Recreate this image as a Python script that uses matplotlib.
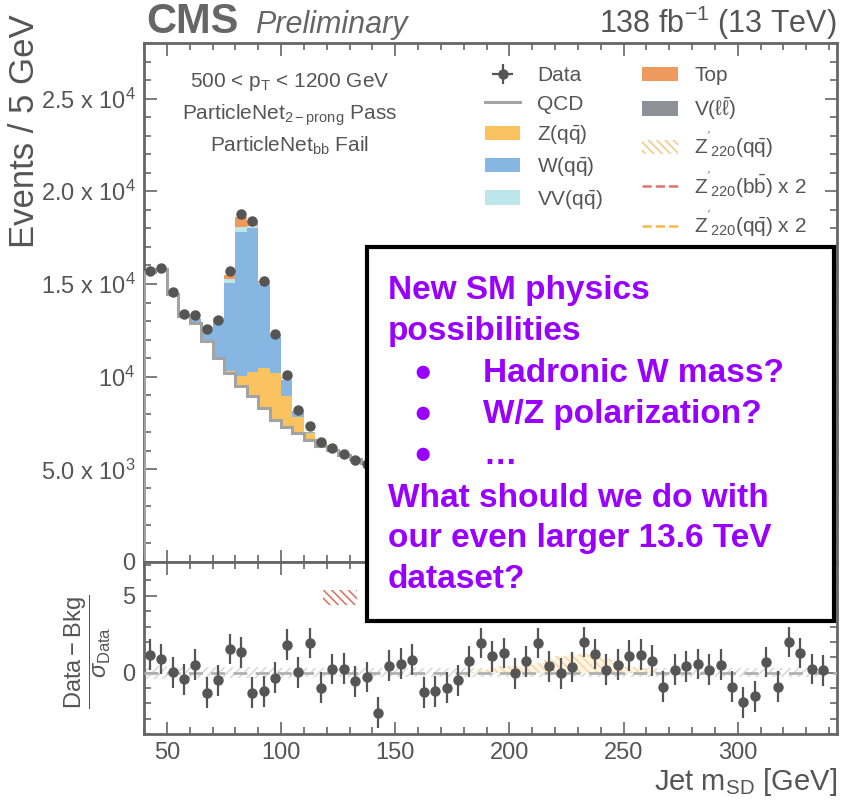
import numpy as np
import matplotlib.pyplot as plt
from matplotlib.patches import Patch, Rectangle
from matplotlib.lines import Line2D
from matplotlib.ticker import MultipleLocator, FixedLocator, FixedFormatter

plt.rcParams['font.family'] = ['Liberation Sans', 'DejaVu Sans']
plt.rcParams['mathtext.fontset'] = 'custom'
plt.rcParams['mathtext.rm'] = 'Liberation Sans'
plt.rcParams['mathtext.it'] = 'Liberation Sans:italic'
plt.rcParams['mathtext.bf'] = 'Liberation Sans:bold'
plt.rcParams['hatch.linewidth'] = 1.2

# ---- main panel, 5 GeV bins from 40 to 140 GeV (rest is behind the text box)
main_lo = 40
main_hi = 140
data = [15676, 15838, 14557, 13405, 13314, 12578, 13081, 15676, 18757, 18378,
        15173, 12308, 10070, 8178, 7351, 6470, 6146, 5822, 5514, 5297]
qcd = [15660, 15784, 14470, 13260, 12900, 11910, 11010, 10200, 9514, 8936,
       8306, 7676, 7279, 6955, 6595, 6270, 6054, 5784, 5551, 5335]
zqq = [10, 10, 15, 20, 30, 40, 60, 125, 502, 1296,
       2162, 2524, 1657, 845, 360, 110, 40, 30, 20, 15]
wqq = [15, 20, 40, 80, 205, 715, 2011, 4740, 7784, 7768,
       4505, 2050, 902, 324, 60, 20, 5, 0, 0, 0]
vvqq = [0, 0, 0, 5, 10, 20, 40, 178, 300, 150, 80, 30, 100, 20, 5, 0, 0, 0, 0, 0]
top = [0, 0, 0, 0, 5, 10, 20, 217, 500, 200, 100, 30, 30, 5, 0, 0, 0, 0, 0, 0]
vll = [0, 0, 0, 0, 0, 0, 5, 10, 20, 20, 10, 5, 5, 0, 0, 0, 0, 0, 0, 0]

# ---- pull panel, 5 GeV bins from 40 to 340 GeV
pull_lo = 40
pull_hi = 340
pulls = [1.17, 0.89, 0.02, -0.45, 0.52, -1.32, -0.50, 1.54, 1.32, -1.32,
         -1.21, -0.34, 1.82, 0.02, 1.93, -0.99, 0.24, 0.26, -0.56, -0.28,
         -2.62, 0.45, 0.58, 0.84, -1.28, -1.21, -0.99, -0.50, 0.73, 1.93,
         1.06, 1.28, -0.06, 0.73, 1.93, 0.41, -0.06, 0.37, 1.99, 1.21,
         0.19, 0.52, 1.10, 1.17, 0.78, -0.93, 0.19, 0.41, 0.56, 0.19,
         0.52, -0.93, -1.93, -1.54, 0.69, -0.93, 1.99, 1.28, 0.24, 0.15]
pull_err = [1.0] * len(pulls)
sig_pull = [0, 0, 0, 0, 0, 0, 0, 0, 0, 0,
            0, 0, 0, 0, 0, 0, 0, 0, 0, 0,
            0, 0, 0, 0, 0, 0, 0, 0, 0.05, 0.15,
            0.30, 0.40, 0.45, 0.50, 0.60, 0.85, 1.10, 1.20, 1.20, 1.15,
            0.90, 0.60, 0.35, 0.30, 0.20, 0.05, 0, 0, 0, 0,
            0, 0, 0, 0, 0, 0, 0, 0, 0, 0]
bkg_unc = [0.40, 0.40, 0.38, 0.38, 0.36, 0.36, 0.35, 0.35, 0.35, 0.35,
           0.34, 0.34, 0.33, 0.33, 0.32, 0.32, 0.32, 0.32, 0.31, 0.31,
           0.30, 0.30, 0.30, 0.30, 0.30, 0.30, 0.30, 0.30, 0.30, 0.30,
           0.30, 0.30, 0.30, 0.30, 0.30, 0.30, 0.30, 0.30, 0.30, 0.30,
           0.30, 0.30, 0.30, 0.30, 0.30, 0.30, 0.30, 0.30, 0.30, 0.30,
           0.30, 0.30, 0.30, 0.30, 0.30, 0.30, 0.30, 0.30, 0.30, 0.30]

TXT = '#555555'
SPINE = '#666666'
C_Z = '#fbc35f'
C_W = '#87b6e3'
C_VV = '#bce6ea'
C_TOP = '#ee9a5e'
C_VLL = '#8f9199'
C_QCD = '#a3a3a3'
PURPLE = '#9900ff'

W, H = 845, 806
fig = plt.figure(figsize=(W / 100, H / 100), dpi=100)
ax = fig.add_axes([144 / W, 1 - 562 / H, 693 / W, 519 / H])
ax2 = fig.add_axes([144 / W, 1 - 734 / H, 693 / W, 172 / H])

edges = np.arange(main_lo, main_hi + 5, 5)
centers = edges[:-1] + 2.5

# stacked backgrounds on top of QCD
base = np.array(qcd, dtype=float)
stack_handles = []
for vals, col, lab in [(zqq, C_Z, r'$\mathrm{Z(q\bar{q})}$'),
                       (wqq, C_W, r'$\mathrm{W(q\bar{q})}$'),
                       (vvqq, C_VV, r'$\mathrm{VV(q\bar{q})}$'),
                       (top, C_TOP, 'Top'),
                       (vll, C_VLL, r'$\mathrm{V(\ell\bar{\ell})}$')]:
    new = base + np.array(vals)
    h = ax.stairs(new, edges, baseline=base, fill=True, color=col, lw=0, label=lab)
    stack_handles.append(h)
    base = new
qcd_h = ax.stairs(qcd, edges, color=C_QCD, lw=2.2, label='QCD', zorder=3)

data_h = ax.errorbar(centers, data, yerr=np.sqrt(data), xerr=1.3, fmt='o', color=TXT,
                     ms=6.5, elinewidth=1.6, capsize=0, zorder=6, label='Data')

ax.set_xlim(40, 343.5)
ax.set_ylim(0, 28000)
ax.yaxis.set_major_locator(FixedLocator([0, 5000, 10000, 15000, 20000, 25000]))
ax.yaxis.set_major_formatter(FixedFormatter(['0', '5.0 x 10$^3$', '10$^4$', '1.5 x 10$^4$',
                                             '2.0 x 10$^4$', '2.5 x 10$^4$']))
ax.yaxis.set_minor_locator(MultipleLocator(1000))

# pull panel
pedges = np.arange(pull_lo, pull_hi + 5, 5)
pcenters = pedges[:-1] + 2.5
unc = np.array(bkg_unc)
ax2.stairs(unc, pedges, baseline=-unc, fill=True, facecolor='none', edgecolor='#dadada',
           hatch='////', lw=0, zorder=1)
ax2.stairs(sig_pull, pedges, fill=True, facecolor='#fef5e6', edgecolor='#f8d7a6',
           hatch='\\\\\\\\', lw=0, zorder=2)
ax2.axhline(0, color='#b0b0b0', lw=2, ls=(0, (5, 3)), zorder=3)
ax2.errorbar(pcenters, pulls, yerr=pull_err, xerr=1.3, fmt='o', color=TXT, ms=6.5,
             elinewidth=1.6, capsize=0, zorder=6)
ax2.set_xlim(40, 343.5)
ax2.set_ylim(-4, 7.2)
ax2.yaxis.set_major_locator(FixedLocator([0, 5]))
ax2.yaxis.set_minor_locator(MultipleLocator(1))
# legend key of the pull panel, its text sits behind the box
ax2.add_patch(Rectangle((0.258, 0.75), 0.049, 0.088, transform=ax2.transAxes,
                        facecolor='none', edgecolor='#d9786a', hatch='\\\\\\\\', lw=0))

for a in (ax, ax2):
    a.xaxis.set_major_locator(MultipleLocator(50))
    a.xaxis.set_minor_locator(MultipleLocator(10))
    a.tick_params(which='both', direction='in', top=True, right=True, color=SPINE,
                  labelcolor=TXT, labelsize=17, width=1.2, pad=6)
    a.tick_params(which='major', length=9)
    a.tick_params(which='minor', length=5)
    for s in a.spines.values():
        s.set_color(SPINE)
        s.set_linewidth(2)
ax.tick_params(labelbottom=False)

# legend
zp_hatch = Patch(facecolor='none', edgecolor='#f5c98c', hatch='\\\\\\\\', lw=0,
                 label=r"$\mathrm{Z^{'}{}_{220}(q\bar{q})}$")
zp_bb = Line2D([], [], color='#d9786a', ls='--', lw=1.8,
               label=r"$\mathrm{Z^{'}{}_{220}(b\bar{b})}$ x 2")
zp_qq = Line2D([], [], color='#f7bb4d', ls='--', lw=1.8,
               label=r"$\mathrm{Z^{'}{}_{220}(q\bar{q})}$ x 2")
handles = [data_h, qcd_h] + stack_handles[:3] + stack_handles[3:] + [zp_hatch, zp_bb, zp_qq]
ax.legend(handles=handles, loc='upper left', bbox_to_anchor=(0.492, 0.955), ncol=2,
          frameon=False, fontsize=15, labelcolor=TXT, handlelength=1.7,
          handletextpad=0.8, columnspacing=1.9, labelspacing=0.45,
          borderaxespad=0, borderpad=0)

# info text
ax.text(0.210, 0.924, r'500 < p$_\mathrm{T}$ < 1200 GeV', transform=ax.transAxes,
        ha='center', va='center', fontsize=15, color=TXT)
ax.text(0.210, 0.860, r'ParticleNet$_\mathrm{2-prong}$ Pass', transform=ax.transAxes,
        ha='center', va='center', fontsize=15, color=TXT)
ax.text(0.210, 0.802, r'ParticleNet$_\mathrm{bb}$ Fail', transform=ax.transAxes,
        ha='center', va='center', fontsize=15, color=TXT)

# header / axis labels
fig.text(146 / W, 1 - 33 / H, 'CMS', fontsize=30, fontweight='bold', color=SPINE,
         va='baseline')
fig.text(255 / W, 1 - 33 / H, 'Preliminary', fontsize=22, style='italic', color=SPINE,
         va='baseline')
fig.text(837 / W, 1 - 33 / H, r'138 fb$^{-1}$ (13 TeV)', fontsize=22, color=TXT,
         ha='right', va='baseline')
fig.text(25 / W, 1 - 14 / H, 'Events / 5 GeV', rotation=90, fontsize=25, color=TXT,
         ha='center', va='top')
fig.text(88 / W, 1 - 652 / H, r'$\dfrac{\mathrm{Data - Bkg}}{\sigma_{\mathrm{Data}}}$',
         rotation=90, fontsize=17, color=TXT, ha='center', va='center')
fig.text(837 / W, 1 - 782 / H, r'Jet m$_\mathrm{SD}$ [GeV]', fontsize=21, color=TXT,
         ha='right', va='center')

# overlaid text box
fig.add_artist(Rectangle((367 / W, 1 - 621 / H), (834 - 367) / W, (621 - 247) / H,
                         transform=fig.transFigure, facecolor='white', edgecolor='black',
                         lw=3, zorder=10))
box_lines = [
    (388, 299, 'New SM physics'),
    (388, 340, 'possibilities'),
    (483, 382, 'Hadronic W mass?'),
    (483, 423, 'W/Z polarization?'),
    (483, 464, '\u2026'),
    (388, 507, 'What should we do with'),
    (388, 547, 'our even larger 13.6 TeV'),
    (388, 588, 'dataset?'),
]
for x, y, s in box_lines:
    fig.text(x / W, 1 - y / H, s, fontsize=24, fontweight='bold', color=PURPLE,
             ha='left', va='baseline', zorder=11)
for y in (382, 423, 464):
    fig.text(423 / W, 1 - (y - 9) / H, '\u25cf', fontsize=22, color=PURPLE,
             ha='center', va='center', zorder=11)

fig.savefig('out.png', dpi=100)
